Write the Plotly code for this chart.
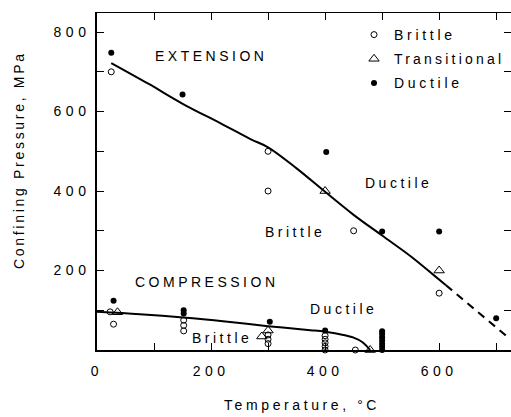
import plotly.graph_objects as go

# ---- data (temperature °C, confining pressure MPa) ----
ext_brittle_T = [25, 300, 300, 450, 600]
ext_brittle_P = [700, 500, 400, 300, 143]
ext_trans_T = [400, 600]
ext_trans_P = [400, 200]
ext_ductile_T = [25, 150, 402, 500, 600, 700]
ext_ductile_P = [748, 643, 498, 298, 298, 80]

comp_brittle_T = [23, 29, 152, 152, 152, 300, 300, 300, 400, 400, 400, 400, 400, 453]
comp_brittle_P = [96, 65, 75, 62, 48, 38, 27, 16, 36, 27, 18, 9, 0, 0]
comp_trans_T = [36, 300, 289, 479]
comp_trans_P = [95, 49, 34, 0]
comp_ductile_T = [29, 152, 152, 303, 400, 500, 500, 500, 500, 500, 500, 500]
comp_ductile_P = [124, 100, 92, 71, 49, 0, 8, 16, 24, 32, 40, 47]

ext_curve_T = [25, 90, 151, 220, 270, 300, 350, 400, 450, 500, 550, 590, 612]
ext_curve_P = [722, 670, 619, 568, 530, 510, 457, 398, 340, 288, 236, 189, 163]
ext_dash_T = [612, 667, 724]
ext_dash_P = [163, 97, 28]
comp_curve_T = [0, 75, 151, 225, 300, 374, 400, 432, 450, 465, 479]
comp_curve_P = [96, 90, 82, 72, 60, 50, 46, 38, 31, 20, 0]

x_ticks = [0, 100, 200, 300, 400, 500, 600, 700]
x_labels = ["0", "", "200", "", "400", "", "600", ""]
y_ticks = [100, 200, 300, 400, 500, 600, 700, 800]
y_labels = ["", "200", "", "400", "", "600", "", "800"]

FONT = "Liberation Sans, Arial, sans-serif"


def sp(t, s):
    return f'<span style="letter-spacing:{s}px">{t}</span>'


fig = go.Figure()

line = dict(color="black", width=2)
fig.add_trace(go.Scatter(x=ext_curve_T, y=ext_curve_P, mode="lines", line=dict(line, shape="spline"),
                         showlegend=False, hoverinfo="skip"))
fig.add_trace(go.Scatter(x=ext_dash_T, y=ext_dash_P, mode="lines",
                         line=dict(color="black", width=2, dash="8px,6px"),
                         showlegend=False, hoverinfo="skip"))
fig.add_trace(go.Scatter(x=comp_curve_T, y=comp_curve_P, mode="lines", line=dict(line, shape="spline"),
                         showlegend=False, hoverinfo="skip"))

fig.add_trace(go.Scatter(x=ext_brittle_T + comp_brittle_T, y=ext_brittle_P + comp_brittle_P,
                         mode="markers", name=sp("Brittle", 3.7), cliponaxis=False, legendgroup="b",
                         marker=dict(symbol="circle-open", size=6, color="black", line=dict(width=1))))
fig.add_trace(go.Scatter(x=ext_trans_T + comp_trans_T, y=ext_trans_P + comp_trans_P,
                         mode="markers", name=sp("Transitional", 3.2), cliponaxis=False, legendgroup="t",
                         marker=dict(symbol="triangle-up-open", size=9, color="black", line=dict(width=1))))
fig.add_trace(go.Scatter(x=ext_ductile_T + comp_ductile_T, y=ext_ductile_P + comp_ductile_P,
                         mode="markers", name=sp("Ductile", 3.7), cliponaxis=False, legendgroup="d",
                         marker=dict(symbol="circle", size=6, color="black")))

ann = [
    ("EXTENSION", 98, 740),
    ("Ductile", 467, 420),
    ("Brittle", 291, 297),
    ("COMPRESSION", 63, 171),
    ("Ductile", 370, 103),
    ("Brittle", 163, 30),
]
for t, x, y in ann:
    fig.add_annotation(x=x, y=y, xref="x", yref="y", text=sp(t, 3.5), showarrow=False,
                       xanchor="left", yanchor="middle", font=dict(size=14, color="black", family=FONT))

W, H = 511, 417
L, R, T, B = 97, 0, 13, 67
pw, ph = W - L - R, H - T - B

# axis titles placed by pixel position
fig.add_annotation(x=(302 - L) / pw, y=(H - B - 405) / ph, xref="paper", yref="paper",
                   xanchor="center", yanchor="middle",
                   text=sp("Temperature, °C", 3.6),
                   showarrow=False, font=dict(size=14, color="black", family=FONT))
fig.add_annotation(text=sp("Confining Pressure, MPa", 2.7), textangle=-90, showarrow=False,
                   xref="paper", yref="paper", x=(19 - L) / pw, y=(H - B - 160) / ph,
                   xanchor="center", yanchor="middle",
                   font=dict(size=14, color="black", family=FONT))

xr = [0, 726]
yr = [0, 848]
fig.update_layout(
    width=W, height=H, margin=dict(l=L, r=R, t=T, b=B, autoexpand=False),
    paper_bgcolor="white", plot_bgcolor="white",
    font=dict(family=FONT, size=14, color="black"),
    xaxis=dict(range=xr, tickvals=x_ticks, ticktext=[sp(s, 4.5) for s in x_labels],
               ticks="inside", ticklen=7, tickcolor="black", showline=True, linewidth=2,
               linecolor="black", showgrid=False, zeroline=False, ticklabelstandoff=7,
               fixedrange=True),
    xaxis2=dict(range=xr, overlaying="x", side="top", anchor="y", tickvals=x_ticks,
                ticks="inside", ticklen=7, tickcolor="black", showline=True, linewidth=1,
                linecolor="black", showticklabels=False, showgrid=False, zeroline=False),
    yaxis=dict(range=yr, tickvals=y_ticks, ticktext=[sp(s, 4.5) for s in y_labels],
               ticks="inside", ticklen=7, tickcolor="black", showline=True, linewidth=1.5,
               linecolor="black", showgrid=False, zeroline=False, ticklabelstandoff=2),
    yaxis2=dict(range=yr, overlaying="y", side="right", anchor="x", tickvals=y_ticks,
                ticks="inside", ticklen=7, tickcolor="black", showline=False,
                showticklabels=False, showgrid=False, zeroline=False),
    legend=dict(x=(354 - L) / pw, y=(H - B - 19) / ph, xanchor="left", yanchor="top",
                bgcolor="rgba(0,0,0,0)", font=dict(size=14, family=FONT), tracegroupgap=3),
)
fig.add_trace(go.Scatter(x=[], y=[], xaxis="x2", yaxis="y2", showlegend=False, hoverinfo="skip"))

fig.write_html("out.html", config={"displayModeBar": False},
               post_script="document.body.style.margin='0';")
